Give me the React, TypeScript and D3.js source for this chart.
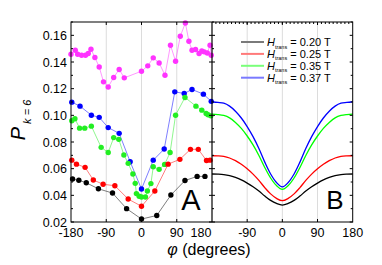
import React, { useEffect, useRef } from "react";
import * as d3 from "d3";

// Panel A: measured points (phi in degrees, P_{k=6})
const phiMagenta = [-180, -169, -163, -153, -143, -136, -129, -119, -108, -97, -85, -71, -57, -44, 0, 16, 30, 45, 60, 74, 87, 99, 112, 121, 129, 138, 147, 154, 160, 168, 175, 178];
const valMagenta = [0.1458, 0.1488, 0.1458, 0.1451, 0.1451, 0.1464, 0.1496, 0.1434, 0.1363, 0.1251, 0.1213, 0.1284, 0.1344, 0.1281, 0.1331, 0.1371, 0.1431, 0.1393, 0.1301, 0.1526, 0.1406, 0.1593, 0.1693, 0.1556, 0.1488, 0.1494, 0.1464, 0.1483, 0.1476, 0.1468, 0.1526, 0.1451];

const phiBlue = [-178, -157, -128, -108, -85, -57, -29, 0, 30, 58, 85, 109, 129, 158, 178];
const valBlue = [0.1099, 0.1069, 0.1001, 0.0985, 0.0908, 0.0865, 0.0652, 0.0447, 0.0664, 0.0747, 0.1176, 0.1164, 0.1194, 0.1159, 0.1105];

const phiGreen = [-178, -170, -158, -145, -128, -103, -85, -71, -58, -45, -34, -22, -16, -13, -6, 0, 10, 15, 24, 30, 45, 59, 73, 87, 111, 139, 154, 165, 170, 177];
const valGreen = [0.0959, 0.0974, 0.0904, 0.0904, 0.0919, 0.076, 0.0721, 0.0833, 0.082, 0.0703, 0.064, 0.056, 0.049, 0.0413, 0.0393, 0.0387, 0.0387, 0.0432, 0.0488, 0.0614, 0.0595, 0.0632, 0.0721, 0.1001, 0.1134, 0.1069, 0.1039, 0.1014, 0.1004, 0.0996];

const phiRed = [-178, -166, -144, -123, -98, -68, -34, 0, 34, 68, 98, 125, 145, 166, 175];
const valRed = [0.0664, 0.0634, 0.061, 0.0515, 0.0483, 0.0472, 0.0372, 0.0318, 0.0432, 0.0634, 0.067, 0.0745, 0.0745, 0.0661, 0.0664];

const phiBlack = [-176, -160, -141, -110, -74, -38, 0, 39, 75, 111, 142, 162];
const valBlack = [0.0522, 0.0513, 0.0494, 0.0449, 0.0417, 0.03, 0.0222, 0.0249, 0.0402, 0.0511, 0.0542, 0.0542];

// Panel B: model curves read every 15 degrees
const phiModel = [-180, -165, -150, -135, -120, -105, -90, -75, -60, -45, -30, -15, 0, 15, 30, 45, 60, 75, 90, 105, 120, 135, 150, 165, 180];
const model020 = [0.056, 0.0559, 0.0556, 0.0548, 0.0534, 0.0516, 0.0492, 0.0464, 0.0432, 0.0395, 0.0362, 0.0339, 0.0327, 0.0339, 0.0362, 0.0395, 0.0432, 0.0464, 0.0492, 0.0516, 0.0534, 0.0548, 0.0556, 0.0559, 0.056];
const model025 = [0.0697, 0.0696, 0.0692, 0.068, 0.066, 0.0633, 0.0599, 0.0559, 0.0512, 0.0458, 0.0411, 0.0377, 0.036, 0.0377, 0.0411, 0.0458, 0.0512, 0.0559, 0.0599, 0.0633, 0.066, 0.068, 0.0692, 0.0696, 0.0697];
const model035 = [0.1009, 0.1006, 0.0999, 0.0981, 0.0947, 0.0902, 0.0845, 0.0778, 0.0699, 0.0609, 0.053, 0.0473, 0.0445, 0.0473, 0.053, 0.0609, 0.0699, 0.0778, 0.0845, 0.0902, 0.0947, 0.0981, 0.0999, 0.1006, 0.1009];
const model037 = [0.1102, 0.1097, 0.1091, 0.1069, 0.1031, 0.098, 0.0916, 0.084, 0.0751, 0.0649, 0.056, 0.0496, 0.0464, 0.0496, 0.056, 0.0649, 0.0751, 0.084, 0.0916, 0.098, 0.1031, 0.1069, 0.1091, 0.1097, 0.1102];

const legendFields = ["0.20", "0.25", "0.35", "0.37"];
const xTicks = [-180, -90, 0, 90, 180];
const yMajor = [0.02, 0.04, 0.06, 0.08, 0.1, 0.12, 0.14, 0.16];
const yMinor = [0.03, 0.05, 0.07, 0.09, 0.11, 0.13, 0.15, 0.17];

const W = 382;
const H = 265;
const top = 22;
const bottom = 222;
const leftA = 71;
const mid = 212;
const rightB = 352.7;

const App = () => {
  const svgRef = useRef<SVGSVGElement>(null);

  useEffect(() => {
    const svg = d3.select(svgRef.current);
    svg.selectAll("*").remove();

    const y = d3.scaleLinear().domain([0.02, 0.17]).range([bottom, top]);
    const xA = d3.scaleLinear().domain([-180, 180]).range([leftA, mid]);
    const xB = d3.scaleLinear().domain([-180, 180]).range([mid, rightB]);

    // grid lines
    [xA, xB].forEach((x) => {
      svg
        .append("g")
        .selectAll("line")
        .data([-90, 0, 90])
        .enter()
        .append("line")
        .attr("x1", (d) => x(d))
        .attr("x2", (d) => x(d))
        .attr("y1", top)
        .attr("y2", bottom)
        .attr("stroke", "#dcdcdc")
        .attr("stroke-width", 1);
    });

    // panel A series
    const seriesA = [
      { phi: phiMagenta, val: valMagenta, color: "#ff33ff" },
      { phi: phiBlue, val: valBlue, color: "#0000ff" },
      { phi: phiGreen, val: valGreen, color: "#22ee22" },
      { phi: phiRed, val: valRed, color: "#ff0000" },
      { phi: phiBlack, val: valBlack, color: "#000000" },
    ];
    const lineA = d3
      .line<[number, number]>()
      .x((d) => xA(d[0]))
      .y((d) => y(d[1]));
    seriesA.forEach((s) => {
      const pts = s.phi.map((p, i) => [p, s.val[i]] as [number, number]);
      svg
        .append("path")
        .datum(pts)
        .attr("fill", "none")
        .attr("stroke", s.color)
        .attr("stroke-opacity", 0.6)
        .attr("stroke-width", 0.85)
        .attr("d", lineA);
      svg
        .append("g")
        .selectAll("circle")
        .data(pts)
        .enter()
        .append("circle")
        .attr("cx", (d) => xA(d[0]))
        .attr("cy", (d) => y(d[1]))
        .attr("r", 2.7)
        .attr("fill", s.color);
    });

    // panel B curves
    const seriesB = [
      { val: model020, color: "#000000", legend: "#7a7a7a" },
      { val: model025, color: "#ff0000", legend: "#ff7a7a" },
      { val: model035, color: "#00ff00", legend: "#7aff7a" },
      { val: model037, color: "#0000ff", legend: "#7a7aff" },
    ];
    const lineB = d3
      .line<number>()
      .x((d, i) => xB(phiModel[i]))
      .y((d) => y(d))
      .curve(d3.curveCatmullRom);
    seriesB.forEach((s) => {
      svg
        .append("path")
        .datum(s.val)
        .attr("fill", "none")
        .attr("stroke", s.color)
        .attr("stroke-width", 1.3)
        .attr("d", lineB);
    });

    // frames
    svg
      .append("rect")
      .attr("x", leftA)
      .attr("y", top)
      .attr("width", rightB - leftA)
      .attr("height", bottom - top)
      .attr("fill", "none")
      .attr("stroke", "#000")
      .attr("stroke-width", 1);
    svg
      .append("line")
      .attr("x1", mid)
      .attr("x2", mid)
      .attr("y1", top)
      .attr("y2", bottom)
      .attr("stroke", "#000")
      .attr("stroke-width", 1.2);

    // y ticks
    const tickG = svg.append("g").attr("stroke", "#000").attr("stroke-width", 1);
    yMajor.forEach((v) => {
      tickG.append("line").attr("x1", leftA).attr("x2", leftA + 3).attr("y1", y(v)).attr("y2", y(v));
      tickG.append("line").attr("x1", mid - 3).attr("x2", mid + 3).attr("y1", y(v)).attr("y2", y(v));
      tickG.append("line").attr("x1", rightB - 3).attr("x2", rightB).attr("y1", y(v)).attr("y2", y(v));
    });
    yMinor.forEach((v) => {
      tickG.append("line").attr("x1", leftA).attr("x2", leftA + 2).attr("y1", y(v)).attr("y2", y(v));
      tickG.append("line").attr("x1", mid).attr("x2", mid + 2).attr("y1", y(v)).attr("y2", y(v));
      tickG.append("line").attr("x1", rightB - 2).attr("x2", rightB).attr("y1", y(v)).attr("y2", y(v));
    });
    // x ticks
    [xA, xB].forEach((x) => {
      [-90, 0, 90].forEach((p) => {
        tickG.append("line").attr("x1", x(p)).attr("x2", x(p)).attr("y1", top).attr("y2", top + 3);
        tickG.append("line").attr("x1", x(p)).attr("x2", x(p)).attr("y1", bottom).attr("y2", bottom - 3);
      });
    });
    d3.range(-170, 180, 10).forEach((p) => {
      tickG.append("line").attr("x1", xB(p)).attr("x2", xB(p)).attr("y1", top).attr("y2", top + 2);
    });

    const font = "'Liberation Sans', Arial, sans-serif";

    // y tick labels
    svg
      .append("g")
      .selectAll("text")
      .data(yMajor)
      .enter()
      .append("text")
      .attr("x", leftA - 4)
      .attr("y", (d) => y(d) + 4.5)
      .attr("text-anchor", "end")
      .attr("font-family", font)
      .attr("font-size", 12.5)
      .text((d) => d3.format(".2f")(d));

    // x tick labels
    const xLabels: { x: number; t: number }[] = [];
    xTicks.forEach((t) => xLabels.push({ x: xA(t), t }));
    xTicks.filter((t) => t !== -180).forEach((t) => xLabels.push({ x: xB(t), t }));
    svg
      .append("g")
      .selectAll("text")
      .data(xLabels)
      .enter()
      .append("text")
      .attr("x", (d) => (d.t === 180 && d.x < mid + 1 ? d.x - 11 : d.x))
      .attr("y", 237)
      .attr("text-anchor", "middle")
      .attr("font-family", font)
      .attr("font-size", 12.5)
      .text((d) => String(d.t));

    // axis titles
    const xt = svg
      .append("text")
      .attr("x", 209)
      .attr("y", 255)
      .attr("text-anchor", "middle")
      .attr("font-family", font)
      .attr("font-size", 16);
    xt.append("tspan").attr("font-style", "italic").text("φ");
    xt.append("tspan").text(" (degrees)");

    const yt = svg
      .append("text")
      .attr("transform", "translate(25,120) rotate(-90)")
      .attr("text-anchor", "middle")
      .attr("font-family", font)
      .attr("font-style", "italic");
    yt.append("tspan").attr("font-size", 20).text("P");
    yt.append("tspan").attr("font-size", 11).attr("dy", 6).text(" k = 6");

    // panel letters
    svg
      .append("text")
      .attr("x", 191)
      .attr("y", 210)
      .attr("text-anchor", "middle")
      .attr("font-family", font)
      .attr("font-size", 29)
      .text("A");
    svg
      .append("text")
      .attr("x", 335)
      .attr("y", 209)
      .attr("text-anchor", "middle")
      .attr("font-family", font)
      .attr("font-size", 26)
      .text("B");

    // legend
    const leg = svg.append("g");
    seriesB.forEach((s, i) => {
      const ly = 42 + i * 11.9;
      leg
        .append("line")
        .attr("x1", 241)
        .attr("x2", 264)
        .attr("y1", ly)
        .attr("y2", ly)
        .attr("stroke", s.legend)
        .attr("stroke-width", 2);
      const t = leg
        .append("text")
        .attr("x", 267)
        .attr("y", ly + 4)
        .attr("font-family", font)
        .attr("font-size", 11);
      t.append("tspan").attr("font-style", "italic").text("H");
      t.append("tspan").attr("font-size", 5.5).attr("dy", 2.5).text("trans");
      t.append("tspan").attr("dy", -2.5).text(` = ${legendFields[i]} T`);
    });
  }, []);

  return (
    <svg
      ref={svgRef}
      width={W}
      height={H}
      style={{ position: "absolute", left: 0, top: 0, background: "#fff" }}
    ></svg>
  );
};

export default App;
